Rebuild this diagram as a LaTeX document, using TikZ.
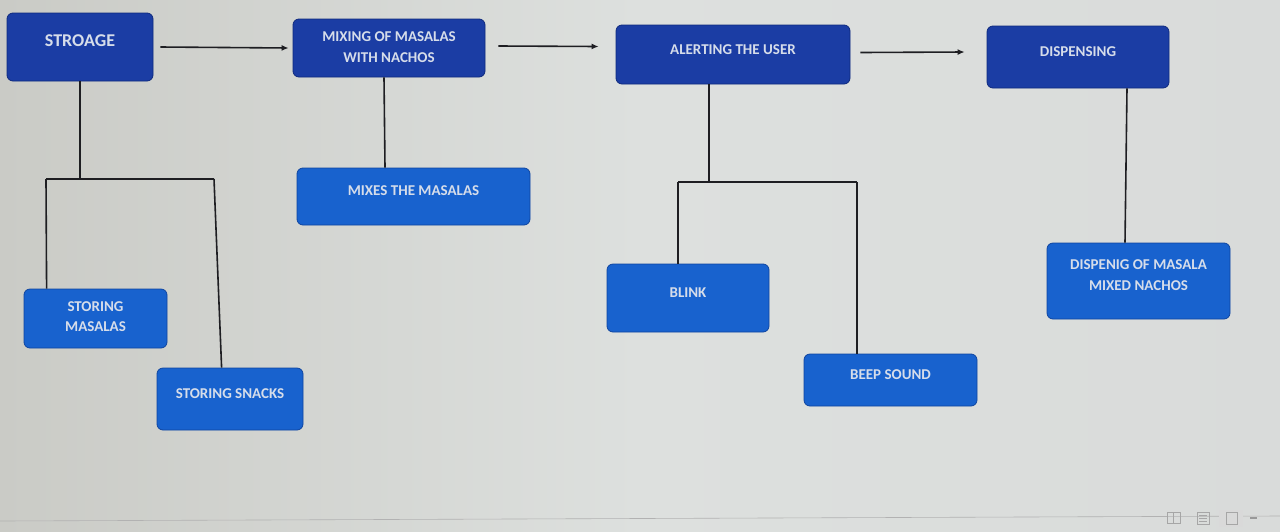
\documentclass[tikz,border=0pt]{standalone}
\usepackage{fontspec}
\setmainfont{Carlito}
\usetikzlibrary{arrows.meta,calc}
\definecolor{bgA}{HTML}{CACBC6}
\definecolor{bgB}{HTML}{DDE0DE}
\definecolor{bgC}{HTML}{D9DBDA}
\definecolor{topfill}{HTML}{1B3DA4}
\definecolor{topdraw}{HTML}{0F2A7E}
\definecolor{subfill}{HTML}{1862CE}
\definecolor{subdraw}{HTML}{0F45A0}
\definecolor{txt}{HTML}{D6DDEA}
\definecolor{line}{HTML}{1E1E22}
\newcommand{\lift}[2]{\raisebox{#1}[\height][\depth]{\begin{tabular}{@{}c@{}}#2\end{tabular}}}
\tikzset{
  topbox/.style={draw=topdraw, fill=topfill, rounded corners=6pt, line width=0.8pt,
    text=txt, font=\bfseries\fontsize{15}{20.5}\selectfont, align=center, inner sep=0pt},
  subbox/.style={draw=subdraw, fill=subfill, rounded corners=6pt, line width=0.8pt,
    text=txt, font=\bfseries\fontsize{15}{20.5}\selectfont, align=center, inner sep=0pt},
  conn/.style={draw=line, line width=1.6pt},
  arr/.style={draw=line, line width=1.6pt, -{Latex[length=7pt,width=6pt]}},
  icon/.style={draw=gray!70, line width=0.6pt}
}
\begin{document}
\begin{tikzpicture}[x=1pt,y=-1pt]
\useasboundingbox (0,0) rectangle (1280,531);
\shade[left color=bgA, right color=bgC, middle color=bgB] (0,0) rectangle (1280,531);
\draw[gray!60, line width=0.6pt] (0,521) -- (1280,516);
\fill[gray!30] (1219,510) rectangle (1243,527);
% status icons
\draw[icon] (1167,512) rectangle (1180,523) (1173.5,512) -- (1173.5,523);
\draw[icon] (1197,512) rectangle (1209,524);
\foreach \yy in {515,518,521} \draw[icon] (1199,\yy) -- (1207,\yy);
\draw[icon] (1226,512) rectangle (1237,524);
\draw[gray!80, line width=1.2pt] (1250,518) -- (1257,518);
% top row
\node[topbox, minimum width=146pt, minimum height=68pt] (stor) at (80,47) {\lift{5pt}{\fontsize{18}{22}\selectfont STROAGE}};
\node[topbox, minimum width=192pt, minimum height=58pt] (mix) at (389,48) {\lift{0pt}{MIXING OF MASALAS\\WITH NACHOS}};
\node[topbox, minimum width=234pt, minimum height=59pt] (alert) at (733,54.5) {\lift{4pt}{ALERTING THE USER}};
\node[topbox, minimum width=182pt, minimum height=62pt] (disp) at (1078,57) {\lift{5pt}{DISPENSING}};
% sub boxes
\node[subbox, minimum width=233pt, minimum height=57pt] (mixes) at (413.5,196.5) {\lift{5pt}{MIXES THE MASALAS}};
\node[subbox, minimum width=143pt, minimum height=59pt] (sm) at (95.5,318.5) {\lift{1pt}{STORING\\MASALAS}};
\node[subbox, minimum width=146pt, minimum height=62pt] (ss) at (230,399) {\lift{5pt}{STORING SNACKS}};
\node[subbox, minimum width=162pt, minimum height=68pt] (blink) at (688,298) {\lift{5pt}{BLINK}};
\node[subbox, minimum width=173pt, minimum height=52pt] (beep) at (890.5,380) {\lift{5pt}{BEEP SOUND}};
\node[subbox, minimum width=183pt, minimum height=76pt] (dmix) at (1138.5,281) {\lift{5pt}{DISPENIG OF MASALA\\MIXED NACHOS}};
% arrows
\draw[arr] ($(stor.east)+(7,0)$) -- ($(mix.west)+(-4,0)$);
\draw[arr] ($(mix.east)+(13,-2)$) -- ($(alert.west)+(-17,-8)$);
\draw[arr] ($(alert.east)+(10,-2)$) -- ($(disp.west)+(-22,-5)$);
% tree connectors
\coordinate (j1) at (80,179);
\coordinate (j1l) at (46,179);
\coordinate (j1r) at (214,179);
\draw[conn] (stor.south) -- (j1);
\draw[conn] (j1l) -- (j1r);
\draw[conn] (j1l) -- ($(sm.north west)+(23,0)$);
\draw[conn] (j1r) -- ($(ss.north west)+(65,0)$);
\draw[conn] (mix.south -| 384,0) -- (mixes.north -| 385,0);
\coordinate (j2) at (709,182);
\coordinate (j2l) at (678,182);
\coordinate (j2r) at (857,182);
\draw[conn] (alert.south -| j2) -- (j2);
\draw[conn] (j2l) -- (j2r);
\draw[conn] (j2l) -- (blink.north -| j2l);
\draw[conn] (j2r) -- (beep.north -| j2r);
\draw[conn] (disp.south -| 1127,0) -- (dmix.north -| 1125,0);
\end{tikzpicture}
\end{document}
